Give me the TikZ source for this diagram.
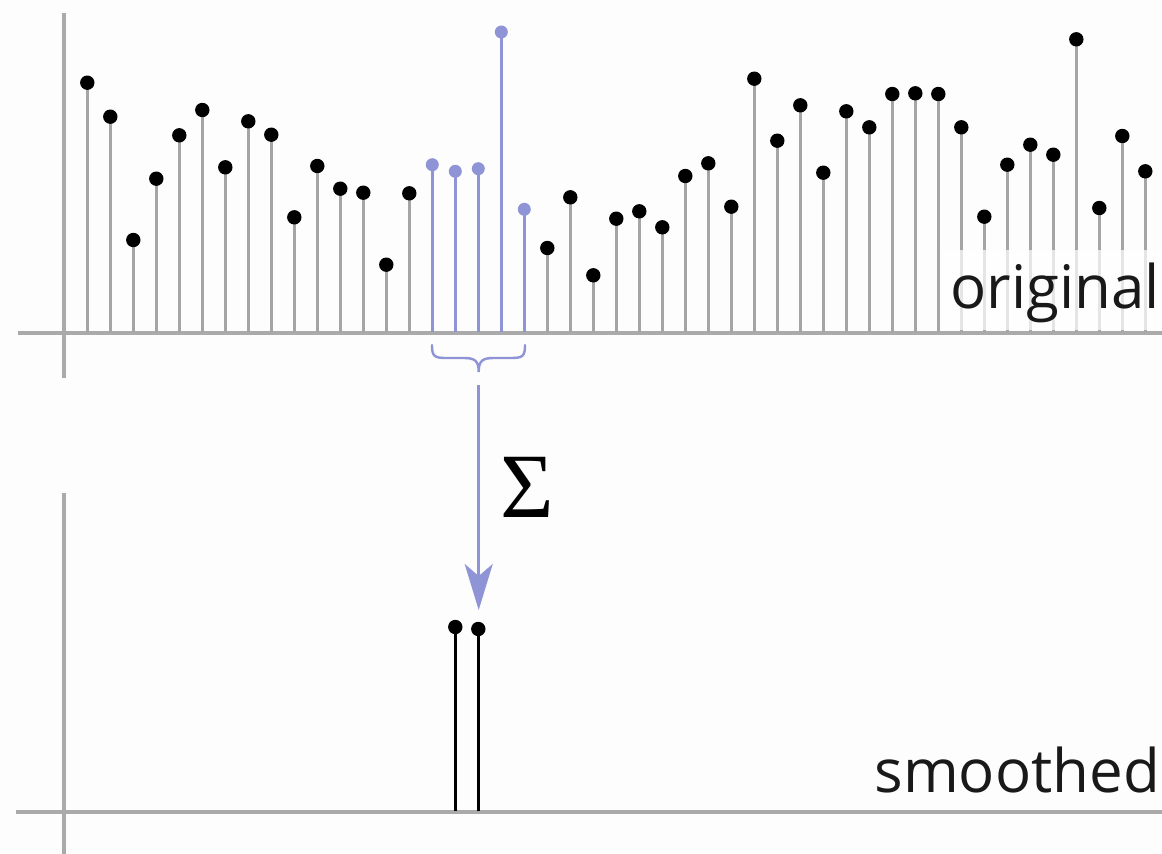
\documentclass[tikz,border=0pt]{standalone}
\usepackage{fontspec}
\setmainfont{Open Sans}
\newfontfamily\sigmafont{Liberation Serif}
\usetikzlibrary{arrows.meta}
\definecolor{axisgray}{RGB}{170,170,170}
\definecolor{stemgray}{RGB}{165,165,165}
\definecolor{lav}{RGB}{143,148,214}
\definecolor{bg}{RGB}{253,253,253}
\tikzset{
  axisline/.style={axisgray, line width=4.5pt},
  stemline/.style={stemgray, line width=2.6pt},
  blustem/.style={lav, line width=2.6pt},
  blackstem/.style={black, line width=2.6pt},
  dotblack/.style={fill=black},
  dotblue/.style={fill=lav},
  lbl/.style={inner sep=0pt, anchor=base east, font=\fontsize{60}{60}\selectfont, text=black!90},
}
\begin{document}
\begin{tikzpicture}[x=1pt,y=-1pt]
\fill[bg] (0,0) rectangle (1162,854);
\useasboundingbox (0,0) rectangle (1162,854);
% top axes
\draw[axisline] (18,333) -- (1162,333);
\draw[axisline] (64,13) -- (64,378);
% stems
\foreach \i/\h in {0/82.7,1/116.7,2/240,3/178.7,4/135.3,5/110,6/167.3,7/121.3,8/134.7,9/217.3,10/166,11/188.7,12/192.7,13/264.7,14/193.3,20/248,21/197.3,22/275.3,23/218.7,24/211.3,25/227.3,26/176,27/163.3,28/206.7,29/78.7,30/140.7,31/105.3,32/172.7,33/111.3,34/127.3,35/94,36/93.3,37/94,38/127.3,39/216.7,40/164.7,41/144.7,42/154.7,43/39.3,44/208,45/136,46/171.3}{
  \pgfmathsetmacro\xx{87.3+23.0*\i}
  \draw[stemline] (\xx,332) -- (\xx,\h);
  \fill[dotblack] (\xx,\h) circle (7.2pt);
}
\foreach \i/\h in {15/164.7,16/171.3,17/168.7,18/32,19/209.3}{
  \pgfmathsetmacro\xx{87.3+23.0*\i}
  \draw[blustem] (\xx,332) -- (\xx,\h);
  \fill[dotblue] (\xx,\h) circle (6.5pt);
}
% label original with translucent backing
\fill[white, opacity=0.72] (942,250) rectangle (1162,330);
\node[lbl] (orig) at (1160,308) {original};
% brace
\draw[lav, line width=2.4pt, line cap=round]
  (432,345) .. controls (432,356) and (434,358) .. (446,358) -- (464,358)
  .. controls (475,358) and (478.7,361) .. (478.7,372)
  .. controls (478.7,361) and (482.4,358) .. (493.4,358) -- (511,358)
  .. controls (523,358) and (525,356) .. (525,345);
% arrow
\coordinate (astart) at (478.7,385);
\coordinate (aend) at (478.7,610);
\draw[lav, line width=2.6pt, -{Stealth[length=46pt, width=28pt, inset=12pt]}] (astart) -- (aend);
\node[inner sep=0pt, anchor=base west, font=\sigmafont\fontsize{92}{92}\selectfont] (sig) at (500,517) {Σ};
% bottom axes
\draw[axisline] (16,812) -- (1162,812);
\draw[axisline] (64,493) -- (64,854);
\draw[blackstem] (455.3,811) -- (455.3,627);
\draw[blackstem] (478.3,811) -- (478.3,629);
\fill[dotblack] (455.3,627) circle (7.2pt);
\fill[dotblack] (478.3,629) circle (7.2pt);
\node[lbl] (smooth) at (1160,792) {smoothed};
\end{tikzpicture}
\end{document}
